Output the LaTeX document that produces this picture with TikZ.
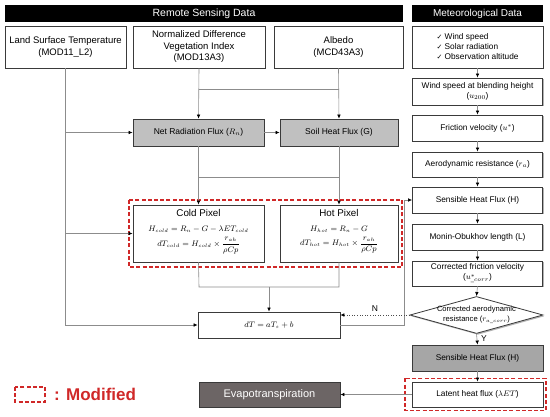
\documentclass[tikz,border=0pt]{standalone}
\usepackage{amsmath}
\usepackage{fontspec}
\setmainfont{Liberation Sans}
\newfontfamily\dejavu{DejaVu Sans}
\usetikzlibrary{arrows.meta,shapes.geometric,shadows}
\definecolor{boxline}{HTML}{3A3A3A}
\definecolor{linegray}{HTML}{8C8C8C}
\definecolor{lightfill}{HTML}{C0C0C0}
\definecolor{midfill}{HTML}{A6A6A6}
\definecolor{darkfill}{HTML}{6C6565}
\definecolor{modred}{HTML}{D02828}
\begin{document}
\begin{tikzpicture}[x=1pt,y=-1pt,
  shad/.style={drop shadow={shadow xshift=1.3pt,shadow yshift=-1.3pt,fill=black,opacity=0.3}},
  box/.style={draw=boxline,line width=0.8pt,fill=white,inner sep=1pt,align=center,shad,
    font=\fontsize{8.3}{10}\selectfont},
  topbox/.style={box,font=\fontsize{9.5}{11.5}\selectfont},
  header/.style={fill=black,text=white,inner sep=0pt,font=\fontsize{10.5}{12}\selectfont},
  conn/.style={draw=linegray,line width=0.6pt},
  arr/.style={conn,-{Latex[length=4pt,width=3.6pt,color=black]}},
  moddash/.style={draw=modred,line width=1.2pt,dash pattern=on 4pt off 2.2pt},
  eq/.style={font=\fontsize{7.8}{9}\selectfont}
]
\useasboundingbox (0,0) rectangle (550,417);

% headers
\node[header,minimum width=398pt,minimum height=17pt] (rsh) at (204,14) {Remote Sensing Data};
\node[header,minimum width=131pt,minimum height=17pt,font=\fontsize{10}{12}\selectfont] (mh) at (477.5,14) {Meteorological Data};

% top row
\node[topbox,minimum width=121pt,minimum height=42pt] (lst) at (65.5,47) {Land Surface Temperature\\(MOD11\_L2)};
\node[topbox,minimum width=132pt,minimum height=42pt] (ndvi) at (199,47) {Normalized Difference\\Vegetation Index\\(MOD13A3)};
\node[topbox,minimum width=129pt,minimum height=42pt] (alb) at (338.5,47) {Albedo\\(MCD43A3)};
\node[box,minimum width=131pt,minimum height=42pt,align=left] (met) at (477.5,47)
  {{\dejavu\fontsize{7}{10}\selectfont ✓} Wind speed\\{\dejavu\fontsize{7}{10}\selectfont ✓} Solar radiation\\{\dejavu\fontsize{7}{10}\selectfont ✓} Observation altitude};

% right column
\node[box,minimum width=130pt,minimum height=27pt] (wind) at (477.5,91.5) {Wind speed at blending height\\($u_{200}$)};
\node[box,minimum width=130pt,minimum height=26pt] (fric) at (477.5,128) {Friction velocity ($u^{*}$)};
\node[box,minimum width=130pt,minimum height=25pt] (aero) at (477.5,164.5) {Aerodynamic resistance ($r_a$)};
\node[box,minimum width=130pt,minimum height=26pt] (sens) at (477.5,200) {Sensible Heat Flux (H)};
\node[box,minimum width=130pt,minimum height=26pt] (mo) at (477.5,237) {Monin-Obukhov length (L)};
\node[box,minimum width=130pt,minimum height=25pt] (cfric) at (477.5,273.5) {Corrected friction velocity\\($u^{*}_{\_corr}$)};
\node[draw=boxline,line width=0.8pt,fill=white,diamond,shad,minimum width=133pt,minimum height=37pt,inner sep=0pt] (dia) at (476.5,315) {};
\node[align=center,inner sep=0pt,font=\fontsize{7.6}{9.5}\selectfont] (diatext) at (dia.center) {Corrected aerodynamic\\resistance ($r_{a\_corr}$)};
\node[box,fill=midfill,minimum width=131pt,minimum height=26pt] (sens2) at (477.5,358) {Sensible Heat Flux (H)};
\node[box,minimum width=131pt,minimum height=25pt] (lat) at (477.5,394.5) {Latent heat flux ($\lambda ET$)};

% middle
\node[box,fill=lightfill,minimum width=131pt,minimum height=27pt,font=\fontsize{8.5}{10}\selectfont] (net) at (198.5,132.5) {Net Radiation Flux ($R_n$)};
\node[box,fill=lightfill,minimum width=118pt,minimum height=27pt,font=\fontsize{8.5}{10}\selectfont] (soil) at (339,132.5) {Soil Heat Flux (G)};
\node[box,minimum width=131pt,minimum height=57pt] (cold) at (198.5,233.5) {};
\node[font=\fontsize{9.8}{11}\selectfont,inner sep=0pt] (coldt) at (198.5,213) {Cold Pixel};
\node[eq,align=center,inner sep=0pt] (colde) at (198.5,240) {$H_{cold}=R_n-G-\lambda ET_{cold}$\\[3pt]$dT_{cold}=H_{cold}\times\dfrac{r_{ah}}{\rho Cp}$};
\node[box,minimum width=118pt,minimum height=57pt] (hot) at (339,233.5) {};
\node[font=\fontsize{9.8}{11}\selectfont,inner sep=0pt] (hott) at (339,213) {Hot Pixel};
\node[eq,align=center,inner sep=0pt] (hote) at (339,240) {$H_{hot}=R_n-G$\\[3pt]$dT_{hot}=H_{hot}\times\dfrac{r_{ah}}{\rho Cp}$};
\node[box,eq,minimum width=142pt,minimum height=26pt] (dt) at (269,325) {$dT=aT_s+b$};
\node[box,fill=darkfill,text=white,minimum width=141pt,minimum height=25pt,font=\fontsize{11}{13}\selectfont] (evap) at (269.5,394.5) {Evapotranspiration};

% modified frames
\draw[moddash] (129,200) rectangle (402,267);
\draw[moddash] (405,378.5) rectangle (546,410.5);
\draw[moddash] (15,387) rectangle (45,402);
\node[text=modred,anchor=west,inner sep=0pt,font=\bfseries\fontsize{17}{19}\selectfont] (modtxt) at (54,394.5) {: Modified};

% coordinates
\coordinate (l1) at (lst.south |- net.west);
\coordinate (l2) at (lst.south |- cold.west);
\coordinate (n1) at (199,89);
\coordinate (a1) at (339,89);
\coordinate (n2) at (199,177);
\coordinate (a2) at (339,177);
\coordinate (c1) at (199,287);
\coordinate (h1) at (339,287);
\coordinate (m1) at (269,287);
\coordinate (r1) at (404,325);
\coordinate (r2) at (404,200);
\coordinate (dtin) at (dt.east |- dia.west);

% connectors left/middle
\draw[arr] (lst.south) |- (dt.west);
\draw[arr] (l1) -- (net.west);
\draw[arr] (l2) -- (cold.west);
\draw[arr] (ndvi.south) -- (net.north);
\draw[arr] (alb.south) -- (soil.north);
\draw[conn] (n1) -- (a1);
\draw[arr] (net.east) -- (soil.west);
\draw[arr] (net.south) -- (cold.north);
\draw[arr] (soil.south) -- (hot.north);
\draw[conn] (n2) -- (a2);
\draw[conn] (cold.south) -- (c1) -- (h1) -- (hot.south);
\draw[arr] (m1) -- (dt.north);
\draw[arr] (dt.east |- r1) -- (r1) -- (r2) -- (sens.west);
\draw[draw=black!70,line width=0.6pt,dotted,-{Latex[length=4pt,width=3.6pt,color=black]}] (dia.west) -- (dtin);
\node[font=\fontsize{8.5}{10}\selectfont,inner sep=0pt] (nlab) at (375,308.5) {N};

% right column connectors
\draw[arr] (met.south) -- (wind.north);
\draw[arr] (wind.south) -- (fric.north);
\draw[arr] (fric.south) -- (aero.north);
\draw[arr] (aero.south) -- (sens.north);
\draw[arr] (sens.south) -- (mo.north);
\draw[arr] (mo.south) -- (cfric.north);
\draw[arr] (cfric.south) -- (dia.north);
\draw[arr] (dia.south) -- (sens2.north);
\node[font=\fontsize{8.5}{10}\selectfont,inner sep=0pt] (ylab) at (484,339) {Y};
\draw[arr] (sens2.south) -- (lat.north);
\draw[arr] (lat.west) -- (evap.east);
\end{tikzpicture}
\end{document}
